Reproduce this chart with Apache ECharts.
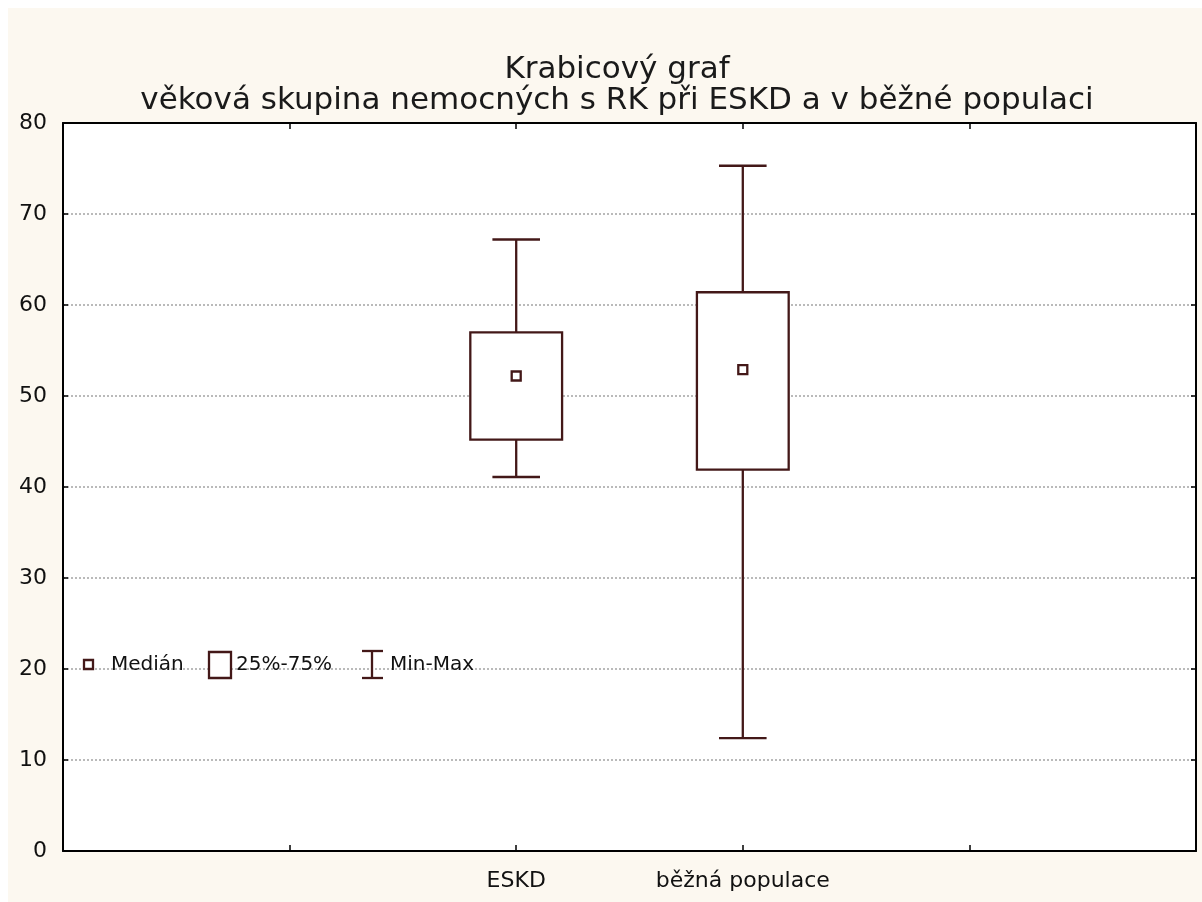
<!DOCTYPE html>
<html>
<head>
<meta charset="utf-8">
<title>Krabicový graf</title>
<script src="https://cdn.jsdelivr.net/npm/echarts@6/dist/echarts.min.js"></script>
<style>
  html, body { margin: 0; padding: 0; background: #ffffff; }
  #chart { width: 1202px; height: 902px; }
</style>
</head>
<body>
<div id="chart"></div>
<script>
// Axis slots: blank slots frame the two groups
const xSlots = ['', '', 'ESKD', 'běžná populace', '', ''];
const categories = ['ESKD', 'běžná populace'];

// Age statistics per group (years)
const minValues    = [41.1, 12.4];
const q1Values     = [45.2, 41.9];
const medianValues = [52.2, 52.9];
const q3Values     = [57.0, 61.4];
const maxValues    = [67.2, 75.3];

const yMin = 0, yMax = 80, yStep = 10;

const FONT = 'DejaVu Sans';
const INK = '#431818';
const LINE_W = 2.3;

const whiskerData = categories.map((c, i) => [c, minValues[i], q1Values[i], q3Values[i], maxValues[i]]);
const boxData = categories.map((c, i) => [c, q1Values[i], q3Values[i]]);
const medianData = categories.map((c, i) => [c, medianValues[i]]);

// Min-Max whisker: stem plus end caps
function renderWhisker(params, api) {
  const x = api.value(0);
  const pMin = api.coord([x, api.value(1)]);
  const pMax = api.coord([x, api.value(4)]);
  const band = api.size([1, 0])[0];
  const half = band * 0.105;
  const style = { stroke: INK, lineWidth: LINE_W };
  return {
    type: 'group',
    children: [
      { type: 'line', shape: { x1: pMin[0], y1: pMin[1], x2: pMax[0], y2: pMax[1] }, style },
      { type: 'line', shape: { x1: pMin[0] - half, y1: pMin[1], x2: pMin[0] + half, y2: pMin[1] }, style },
      { type: 'line', shape: { x1: pMax[0] - half, y1: pMax[1], x2: pMax[0] + half, y2: pMax[1] }, style }
    ]
  };
}

// 25%-75% box, filled white so it hides the stem and gridlines behind it
function renderBox(params, api) {
  const x = api.value(0);
  const lo = api.coord([x, api.value(1)]);
  const hi = api.coord([x, api.value(2)]);
  const w = api.size([1, 0])[0] * 0.405;
  return {
    type: 'rect',
    shape: { x: lo[0] - w / 2, y: hi[1], width: w, height: lo[1] - hi[1] },
    style: { fill: '#ffffff', stroke: INK, lineWidth: LINE_W }
  };
}

// Median marker: small hollow square
function renderMedian(params, api) {
  const p = api.coord([api.value(0), api.value(1)]);
  const s = 9;
  return {
    type: 'rect',
    shape: { x: p[0] - s / 2, y: p[1] - s / 2, width: s, height: s },
    style: { fill: '#ffffff', stroke: INK, lineWidth: LINE_W }
  };
}

const axisLineStyle = { color: '#000000', width: 2 };
const tickStyle = { color: '#000000', width: 1.5 };
const labelStyle = { color: '#111111', fontFamily: FONT, fontSize: 22 };

const chart = echarts.init(document.getElementById('chart'), null, { renderer: 'canvas' });

chart.setOption({
  backgroundColor: '#fcf8f0',
  animation: false,
  title: {
    text: 'Krabicový graf\nvěková skupina nemocných s RK při ESKD a v běžné populaci',
    left: 612,
    top: 49,
    textAlign: 'center',
    textStyle: {
      fontFamily: FONT,
      fontSize: 31,
      fontWeight: 'normal',
      color: '#1a1a1a',
      lineHeight: 31
    }
  },
  grid: {
    left: 63,
    right: 6,
    top: 123,
    bottom: 51,
    show: true,
    backgroundColor: '#ffffff',
    borderWidth: 0
  },
  xAxis: [
    {
      type: 'category',
      data: xSlots,
      boundaryGap: false,
      position: 'bottom',
      axisLine: { onZero: false, lineStyle: axisLineStyle },
      axisTick: { inside: true, length: 6, interval: 0, lineStyle: tickStyle },
      axisLabel: Object.assign({ interval: 0, margin: 19 }, labelStyle),
      splitLine: { show: false }
    },
    {
      type: 'category',
      data: xSlots,
      boundaryGap: false,
      position: 'top',
      axisLine: { onZero: false, lineStyle: axisLineStyle },
      axisTick: { inside: true, length: 6, interval: 0, lineStyle: tickStyle },
      axisLabel: { show: false },
      splitLine: { show: false }
    }
  ],
  yAxis: [
    {
      type: 'value',
      min: yMin,
      max: yMax,
      interval: yStep,
      position: 'left',
      axisLine: { show: true, onZero: false, lineStyle: axisLineStyle },
      axisTick: { show: true, inside: true, length: 5, lineStyle: tickStyle },
      axisLabel: Object.assign({ margin: 16 }, labelStyle),
      splitLine: { show: true, lineStyle: { type: [2, 2], color: '#a4a4a4', width: 1.5 } }
    },
    {
      type: 'value',
      min: yMin,
      max: yMax,
      interval: yStep,
      position: 'right',
      axisLine: { show: true, onZero: false, lineStyle: axisLineStyle },
      axisTick: { show: true, inside: true, length: 5, lineStyle: tickStyle },
      axisLabel: { show: false },
      splitLine: { show: false }
    }
  ],
  series: [
    { name: 'Min-Max', type: 'custom', renderItem: renderWhisker, data: whiskerData, encode: { x: 0, y: [1, 2, 3, 4] }, z: 3 },
    { name: '25%-75%', type: 'custom', renderItem: renderBox, data: boxData, encode: { x: 0, y: [1, 2] }, z: 4 },
    { name: 'Medián', type: 'custom', renderItem: renderMedian, data: medianData, encode: { x: 0, y: 1 }, z: 5 }
  ],
  graphic: [
    // white page margin along the top and left edges
    { type: 'rect', left: 0, top: 0, shape: { width: 1202, height: 8 }, style: { fill: '#ffffff' }, silent: true },
    { type: 'rect', left: 0, top: 0, shape: { width: 8, height: 902 }, style: { fill: '#ffffff' }, silent: true },
    // key inside the plot
    { type: 'rect', shape: { x: 84, y: 660, width: 9, height: 9 }, style: { fill: '#ffffff', stroke: INK, lineWidth: LINE_W }, z: 10 },
    { type: 'text', x: 111, y: 665, style: { text: 'Medián', fontFamily: FONT, fontSize: 20, fill: '#111111', verticalAlign: 'middle' }, z: 10 },
    { type: 'rect', shape: { x: 209, y: 652, width: 22, height: 26 }, style: { fill: '#ffffff', stroke: INK, lineWidth: LINE_W }, z: 10 },
    { type: 'text', x: 236, y: 665, style: { text: '25%-75%', fontFamily: FONT, fontSize: 20, fill: '#111111', verticalAlign: 'middle' }, z: 10 },
    { type: 'line', shape: { x1: 372, y1: 651, x2: 372, y2: 678 }, style: { stroke: INK, lineWidth: LINE_W }, z: 10 },
    { type: 'line', shape: { x1: 362, y1: 651, x2: 383, y2: 651 }, style: { stroke: INK, lineWidth: LINE_W }, z: 10 },
    { type: 'line', shape: { x1: 362, y1: 678, x2: 383, y2: 678 }, style: { stroke: INK, lineWidth: LINE_W }, z: 10 },
    { type: 'text', x: 390, y: 665, style: { text: 'Min-Max', fontFamily: FONT, fontSize: 20, fill: '#111111', verticalAlign: 'middle' }, z: 10 }
  ]
});
</script>
</body>
</html>
